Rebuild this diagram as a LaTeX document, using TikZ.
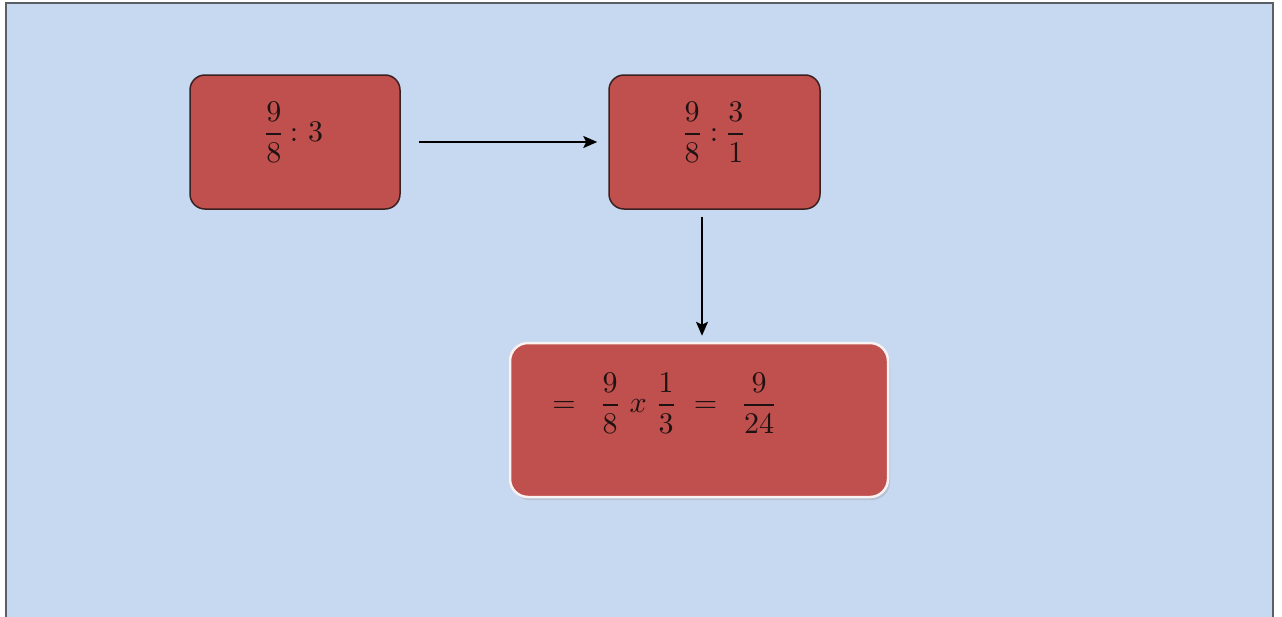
\documentclass[tikz,border=0pt]{standalone}
\usepackage{amsmath}
\usepackage{graphicx}
\usetikzlibrary{arrows.meta,shadows}
\definecolor{bgblue}{HTML}{C6D9F0}
\definecolor{boxred}{HTML}{C0504D}
\definecolor{boxedge}{HTML}{3A2020}
\definecolor{frame}{HTML}{5A5F66}
\definecolor{ink}{HTML}{1E1212}
\newcommand{\bigmath}[1]{\scalebox{3}{$#1$}}
\tikzset{
  redbox/.style={draw=boxedge, line width=1.5pt, fill=boxred, rounded corners=15pt, inner sep=0pt},
  glowbox/.style={draw=white!92!boxred, line width=2.5pt, fill=boxred, rounded corners=18pt, inner sep=0pt,
    drop shadow={opacity=0.25, shadow xshift=2pt, shadow yshift=-3pt}},
  mathtext/.style={text=ink, inner sep=0pt},
  link/.style={draw=black, line width=2pt, -{Stealth[length=14pt,width=12pt,inset=3pt]}}
}
\begin{document}
\begin{tikzpicture}[x=1pt,y=-1pt]
\useasboundingbox (0,0) rectangle (1282,616);
\fill[white] (0,0) rectangle (1282,616);
\draw[draw=frame, line width=2pt, fill=bgblue] (6,3) rectangle (1273,630);

\node[redbox, minimum width=210pt, minimum height=134pt] (b1) at (295,142) {};
\node[redbox, minimum width=211pt, minimum height=134pt] (b2) at (714.5,142) {};
\node[glowbox, minimum width=378pt, minimum height=154pt] (b3) at (699,420) {};

\node[mathtext] (t1) at (293,132) {\bigmath{\dfrac{9}{8}\mkern3mu{:}\mkern6mu 3}};
\node[mathtext] (t2) at (714,132) {\bigmath{\dfrac{9}{8}\mkern4mu{:}\mkern4mu\dfrac{3}{1}}};
\node[mathtext] (t3) at (665,403) {\bigmath{=\mkern9mu\dfrac{9}{8}\mkern5mu x\mkern5mu\dfrac{1}{3}\mkern5mu=\mkern9mu\dfrac{9}{24}}};

\draw[link, shorten <=18pt, shorten >=11pt] (b1.east) -- (b2.west);
\draw[link, shorten <=7pt, shorten >=6pt] ([xshift=-12.5pt]b2.south) -- ([xshift=-12.5pt]b2.south |- b3.north);
\end{tikzpicture}
\end{document}
